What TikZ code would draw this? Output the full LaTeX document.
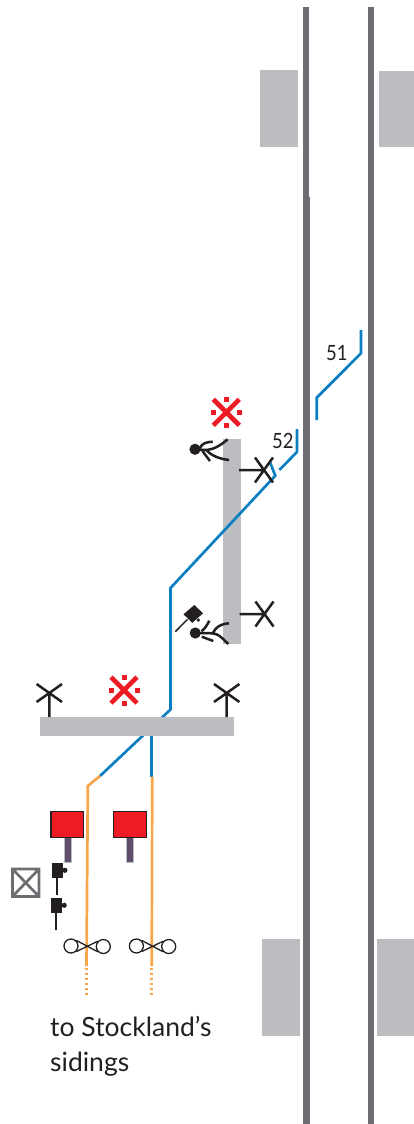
\documentclass[tikz,border=0pt]{standalone}
\usepackage{fontspec}
\setmainfont{Lato}
\newfontfamily\numfont[FakeStretch=0.88]{Lato}
\definecolor{palTrack}{HTML}{6D6E71}
\definecolor{palPlat}{HTML}{BCBDC0}
\definecolor{palBlue}{HTML}{0B7FC2}
\definecolor{palOrange}{HTML}{F7A64A}
\definecolor{palRed}{HTML}{ED1C24}
\definecolor{palPost}{HTML}{5E4D6B}
\definecolor{palInk}{HTML}{231F20}
\begin{document}
\begin{tikzpicture}[
    x=1pt, y=-1pt,
    track/.style={line width=6.9pt, palTrack},
    plat/.style={fill=palPlat},
    blueline/.style={line width=2.7pt, palBlue, miter limit=10},
    orangeline/.style={line width=2.7pt, palOrange},
    orangedots/.style={line width=2.7pt, palOrange, dash pattern=on 2.4pt off 2.6pt},
    ink/.style={line width=2.5pt, palInk},
    thinink/.style={line width=1.3pt, palInk},
    lbl/.style={font=\numfont\fontsize{21}{22}\selectfont, text=palInk, inner sep=0pt},
    sign/.style={fill=palRed, draw=palInk, line width=1.1pt},
    post/.style={fill=palPost, draw=palPlat, line width=0.5pt},
    redcross/.pic={
        \draw[palRed, line width=4.6pt] (-13,-13) -- (13,13) (-13,13) -- (13,-13);
        \foreach \dx/\dy in {0/-13, 0/13, -13/0, 13/0}
            \fill[palRed] (\dx-2.5,\dy-2.5) rectangle (\dx+2.5,\dy+2.5);
    },
    bowtie/.pic={
        \draw[thinink] (-15.3,0) circle (7pt) (17,0.5) circle (7pt);
        \draw[thinink] (-10,-5.6) -- (11.5,5.8) (-10,5.6) -- (11.5,-4.8);
    },
    mastup/.pic={
        \draw[ink] (0,0) -- (0,-24) (-12.7,-33) -- (12.7,-15) (-12.7,-15) -- (12.7,-33);
    },
    mastside/.pic={
        \draw[ink] (0,0) -- (25,0) (16,-12.5) -- (34,12.5) (16,12.5) -- (34,-12.5);
    },
    lamp/.pic={
        \fill[palInk] (0,0) rectangle (11.3,14.5);
        \fill[palInk] (13.2,7.3) circle (2.6pt);
        \draw[line width=2pt, palInk] (5.3,14) -- (5.3,32);
    },
]
\useasboundingbox (0,0) rectangle (414,1124);
% running lines
\draw[track] (306,7) -- (306,197);
\draw[track] (306.2,197) -- (306.2,1124);
\draw[track] (371,7) -- (371,197);
\draw[track] (371,197) -- (371,1124);
% station platforms
\fill[plat] (260,70) rectangle (298,146.5);
\fill[plat] (379,71) rectangle (414,146.5);
\fill[plat] (262,939) rectangle (300,1036);
\fill[plat] (377,939) rectangle (414,1036);
\fill[plat] (223,439) rectangle (241.3,644);
% blue lines
\draw[blueline] (361,330) -- (361,353.3) -- (316.7,397.7) -- (316.7,420);
\draw[blueline] (297,429) -- (297,452) -- (279.3,470);
\draw[blueline] (270,462.3) -- (275.3,475.7) -- (170.5,588) -- (170.5,709.5) -- (100,776);
\draw[blueline] (151.3,730) -- (151.3,776.7);
% orange lines
\draw[orangeline] (100,776) -- (87.8,786) -- (86.5,966);
\draw[orangeline] (152.3,776.7) -- (151.7,966);
\draw[orangedots] (86.3,968) -- (86.3,995);
\draw[orangedots] (151.7,968) -- (151.7,995);
\fill[plat] (40,717) rectangle (234,736.3);
% masts
\pic at (49.3,717) {mastup};
\pic at (226.7,717) {mastup};
\pic at (239,470) {mastside};
\pic at (239.5,614) {mastside};
% no-stopping crosses
\pic at (226.3,412.3) {redcross};
\pic at (124,690) {redcross};
% upper figure
\fill[palInk] (195,449.3) circle (5.6pt);
\draw[ink] (198,449.8) -- (206.7,450)
    (200,448) .. controls (202,443) and (207,442) .. (212.7,441.7)
    (206.7,450) .. controls (213,449.5) and (220,446) .. (227.7,439.3)
    (202.5,451) -- (210,461)
    (206.7,450.5) .. controls (212,456) and (220,459) .. (229,460);
% lower figure
\fill[palInk] (195.3,633) circle (5.6pt);
\draw[ink] (198,633) -- (213.3,633.3)
    (201.5,631) .. controls (205,629) and (207,625) .. (209.3,620.7)
    (212.7,633.3) .. controls (216,627) and (220,624) .. (229,623.3)
    (201.7,636.7) -- (213.3,641)
    (213,633.5) .. controls (219,634) and (222,638) .. (228.3,644);
% camera
\fill[palInk] (194.3,605) -- (203,613.3) -- (192.3,622.8) -- (183.5,614.3) -- cycle;
\fill[palInk] (198.3,620) circle (1.8pt);
\draw[line width=1.5pt, palInk] (187.5,619.3) -- (175.3,631.7);
% signs
\draw[post] (64.3,837.7) rectangle (71,862.7);
\draw[sign] (51,811.3) rectangle (83.7,837.7);
\draw[post] (126.7,837.7) rectangle (133.3,862.7);
\draw[sign] (113.7,811.3) rectangle (146.3,837.7);
% level crossing box
\draw[palTrack, line width=2.7pt] (12.5,869) rectangle (39,896.5)
    (12.5,869) -- (39,896.5) (12.5,896.5) -- (39,869);
\pic at (51.7,863) {lamp};
\pic at (51,898) {lamp};
\pic at (86.3,946) {bowtie};
\pic at (151.7,946) {bowtie};
% labels
\node[lbl, anchor=base west] (lblA) at (326,360.5) {51};
\node[lbl, anchor=base west] (lblB) at (272,448.5) {52};
\node[anchor=base west, inner sep=0pt, font=\fontsize{26.5}{35}\selectfont, text=palInk, align=left] (lblDest) at (50,1071) {to Stockland’s\\sidings};
\end{tikzpicture}
\end{document}
